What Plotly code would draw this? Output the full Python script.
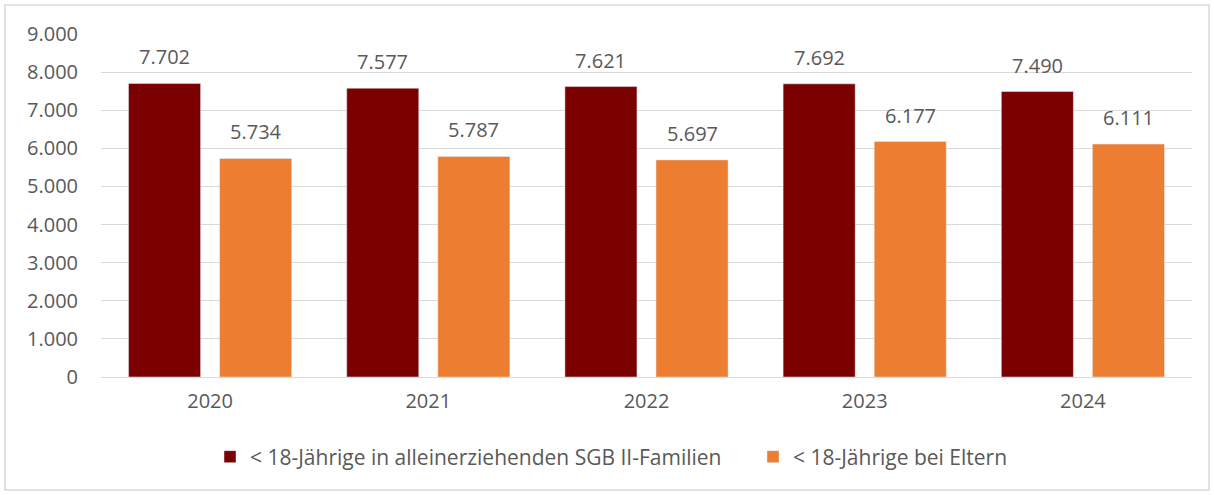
import plotly.graph_objects as go

years = ["2020", "2021", "2022", "2023", "2024"]
allein = [7702, 7577, 7621, 7692, 7490]
eltern = [5734, 5787, 5697, 6177, 6111]
name_allein = "< 18-Jährige in alleinerziehenden SGB II-Familien"
name_eltern = "< 18-Jährige bei Eltern"
y_ticks = [0, 1000, 2000, 3000, 4000, 5000, 6000, 7000, 8000, 9000]

font_family = "Open Sans, Liberation Sans, sans-serif"
gray = "#595959"
fs = 20

L, R, T, B = 101, 22, 34, 118
W, H = 1214, 495
pw = W - L - R
ph = H - T - B
bargap = 0.165
bargroupgap = 0.209
band = pw / len(years)
slot = band * (1 - bargap) / 2
offset = slot / 2


def fmt(v):
    return f"{v:,}".replace(",", ".")


fig = go.Figure()
fig.add_trace(go.Bar(x=years, y=allein, name=name_allein, marker_color="#7B0000"))
fig.add_trace(go.Bar(x=years, y=eltern, name=name_eltern, marker_color="#ED7D31"))

annotations = []
for series, shift in ((allein, -offset), (eltern, offset)):
    for i, v in enumerate(series):
        annotations.append(dict(x=i, y=v, xref="x", yref="y", text=fmt(v),
                                showarrow=False, xanchor="center", yanchor="bottom",
                                xshift=shift, yshift=11,
                                font=dict(size=fs, color=gray, family=font_family)))

fig.update_layout(
    width=W, height=H,
    margin=dict(l=L, r=R, t=T, b=B, autoexpand=False),
    paper_bgcolor="white", plot_bgcolor="white",
    barmode="group", bargap=bargap, bargroupgap=bargroupgap,
    separators=",.",
    font=dict(family=font_family, color=gray, size=fs),
    legend=dict(orientation="h", x=(210 - L) / pw, xanchor="left",
                y=-(457 - (H - B)) / ph, yanchor="middle",
                font=dict(size=21, color=gray, family=font_family),
                bgcolor="rgba(0,0,0,0)", traceorder="normal",
                entrywidth=498, entrywidthmode="pixels"),
    xaxis=dict(type="category", range=[-0.5, len(years) - 0.5],
               showgrid=False, showline=True, linecolor="#d9d9d9", linewidth=1,
               tickfont=dict(size=fs, color=gray), ticks="", ticklabelstandoff=6),
    yaxis=dict(range=[0, 9000], tickvals=y_ticks, tickformat=",", showgrid=True,
               gridcolor="#d9d9d9", gridwidth=1, zeroline=False, showline=False,
               tickfont=dict(size=fs, color=gray), ticklabelstandoff=22),
    annotations=annotations,
    shapes=[dict(type="rect", xref="paper", yref="paper",
                 x0=(5 - L) / pw, x1=(1209 - L) / pw,
                 y0=(H - B - 490) / ph, y1=(H - B - 5) / ph,
                 line=dict(color="#d9d9d9", width=1.5), fillcolor="rgba(0,0,0,0)", layer="below")],
)

fig.write_html("out.html", config={"displayModeBar": False},
               post_script="document.body.style.margin='0';")
